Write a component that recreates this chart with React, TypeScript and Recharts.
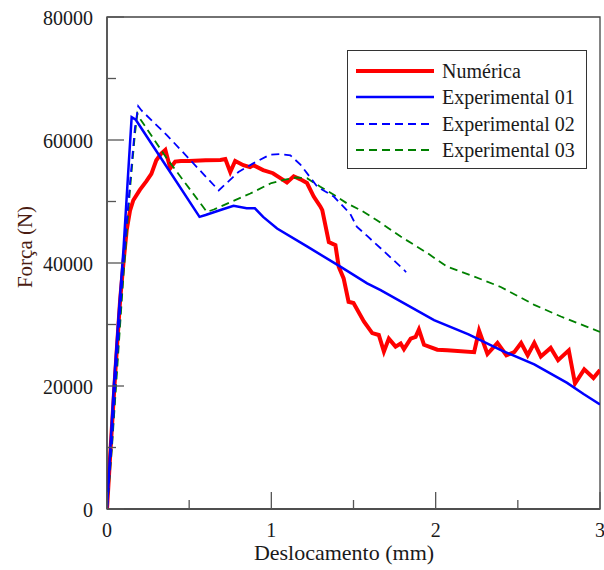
import { LineChart, Line, XAxis, YAxis, ReferenceArea } from "recharts";

const FONT = "'Liberation Serif', 'Times New Roman', serif";

// Numérica
const numDesl = [0, 0.02, 0.05, 0.08, 0.1, 0.12, 0.14, 0.16, 0.2, 0.24, 0.27, 0.3, 0.33, 0.355, 0.385, 0.415, 0.45, 0.5, 0.6, 0.69, 0.72, 0.75, 0.78, 0.83, 0.87, 0.89, 0.95, 1.01, 1.055, 1.095, 1.136, 1.177, 1.217, 1.258, 1.298, 1.31, 1.33, 1.35, 1.39, 1.41, 1.44, 1.47, 1.5, 1.563, 1.614, 1.654, 1.685, 1.715, 1.756, 1.787, 1.807, 1.848, 1.878, 1.898, 1.929, 2.01, 2.07, 2.234, 2.264, 2.315, 2.376, 2.43, 2.478, 2.52, 2.56, 2.6, 2.64, 2.7, 2.745, 2.81, 2.848, 2.904, 2.96, 3.0];
const numForca = [0, 9000, 22000, 34000, 40000, 45400, 48500, 50200, 51900, 53300, 54500, 56700, 57800, 58400, 55400, 56500, 56600, 56600, 56700, 56750, 56900, 54800, 56600, 55900, 55600, 55900, 55100, 54600, 53800, 53100, 54100, 53600, 53000, 50800, 49200, 48600, 46000, 43400, 42900, 39400, 37500, 33700, 33500, 30500, 28600, 28300, 25600, 27700, 26400, 26900, 26000, 27700, 28000, 29200, 26700, 25900, 25800, 25500, 29000, 25200, 27000, 25000, 25500, 27000, 25000, 27000, 24800, 26200, 24200, 25800, 20400, 22700, 21300, 22600];

// Experimental 01
const exp1Desl = [0, 0.02, 0.04, 0.07, 0.1, 0.125, 0.15, 0.175, 0.364, 0.563, 0.6, 0.7, 0.77, 0.85, 0.9, 0.95, 1.035, 1.217, 1.42, 1.583, 1.665, 1.99, 2.2, 2.4, 2.6, 2.8, 2.9, 3.0];
const exp1Forca = [0, 9600, 19400, 31300, 42100, 53000, 63700, 63300, 55600, 47500, 47800, 48700, 49300, 48900, 48900, 47500, 45600, 42700, 39400, 36700, 35600, 30700, 28400, 25800, 23500, 20500, 18700, 17000];

// Experimental 02
const exp2Desl = [0, 0.03, 0.06, 0.1, 0.14, 0.17, 0.19, 0.21, 0.364, 0.68, 0.72, 0.8, 0.89, 0.99, 1.05, 1.116, 1.177, 1.28, 1.38, 1.48, 1.52, 1.583, 1.665, 1.807, 1.82];
const exp2Forca = [0, 11000, 24000, 40000, 53000, 62000, 65500, 64800, 60800, 51800, 52800, 54800, 56200, 57600, 57700, 57500, 56000, 52400, 50800, 48000, 45900, 44400, 42400, 38900, 38500];

// Experimental 03
const exp3Desl = [0, 0.03, 0.06, 0.1, 0.14, 0.17, 0.185, 0.2, 0.364, 0.608, 0.65, 0.872, 1.0, 1.075, 1.15, 1.217, 1.298, 1.38, 1.46, 1.55, 1.64, 1.787, 1.95, 2.07, 2.234, 2.396, 2.6, 2.762, 3.0];
const exp3Forca = [0, 10000, 22000, 38000, 52000, 61000, 64300, 63500, 57000, 48300, 48700, 51300, 53000, 53500, 53900, 53800, 52400, 51100, 49700, 48500, 47000, 44300, 41600, 39400, 37800, 36100, 33200, 31300, 28800];

const xTicks = [0, 0.5, 1, 1.5, 2, 2.5, 3];
const yTicks = [0, 10000, 20000, 30000, 40000, 50000, 60000, 70000, 80000];

const zip = (xs: number[], ys: number[]) => xs.map((x, i) => ({ x, y: ys[i] }));

// drawing order (red underneath); legend order comes from `legendOrder`
const series = [
  { name: "Numérica", data: zip(numDesl, numForca), color: "#ff0000", width: 4, dash: undefined },
  { name: "Experimental 03", data: zip(exp3Desl, exp3Forca), color: "#008000", width: 1.8, dash: "8 5" },
  { name: "Experimental 02", data: zip(exp2Desl, exp2Forca), color: "#0000ff", width: 1.8, dash: "8 5" },
  { name: "Experimental 01", data: zip(exp1Desl, exp1Forca), color: "#0000ff", width: 2.5, dash: undefined },
];
const legendOrder = ["Numérica", "Experimental 01", "Experimental 02", "Experimental 03"];

const XTick = ({ x, y, payload }: any) => {
  const major = Number.isInteger(payload.value);
  return (
    <g>
      <line x1={x} x2={x} y1={y} y2={y - (major ? 17 : 9)} stroke="#555" strokeWidth={1.3} />
      {major && (
        <text x={x} y={y + 28} textAnchor="middle" fontSize={20} fontFamily={FONT} fill="#1a1a1a">
          {payload.value}
        </text>
      )}
    </g>
  );
};

const YTick = ({ x, y, payload }: any) => {
  const major = payload.value % 20000 === 0;
  return (
    <g>
      <line x1={x} x2={x + (major ? 17 : 9)} y1={y} y2={y} stroke="#555" strokeWidth={1.3} />
      {major && (
        <text x={x - 14} y={y + 8} textAnchor="end" fontSize={20} fontFamily={FONT} fill="#1a1a1a">
          {payload.value}
        </text>
      )}
    </g>
  );
};

const LegendBox = () => (
  <div
    style={{
      position: "absolute",
      left: 347,
      top: 50,
      border: "1px solid #333",
      background: "#fff",
      padding: "7px 0",
      fontFamily: FONT,
      fontSize: 20,
      color: "#1a1a1a",
      boxSizing: "border-box",
      width: 240,
      height: 119,
    }}
  >
    {legendOrder.map((name) => {
      const s = series.find((d) => d.name === name)!;
      return (
        <div key={name} style={{ display: "flex", alignItems: "center", height: 26.25 }}>
          <svg width={94} height={10} style={{ flex: "none" }}>
            <line x1={8} x2={86} y1={5} y2={5} stroke={s.color} strokeWidth={s.width} strokeDasharray={s.dash} />
          </svg>
          <span style={{ lineHeight: "20px" }}>{name}</span>
        </div>
      );
    })}
  </div>
);

export default function App() {
  return (
    <div style={{ position: "absolute", left: 0, top: 0, width: 604, height: 570, background: "#fff" }}>
      <LineChart width={604} height={570} margin={{ top: 17, right: 4, bottom: 0, left: 0 }}>
        <XAxis
          type="number"
          dataKey="x"
          domain={[0, 3]}
          ticks={xTicks}
          height={61}
          tickSize={0}
          tickMargin={0}
          tick={<XTick />}
          axisLine={{ stroke: "#444", strokeWidth: 1.3 }}
          allowDataOverflow
          label={{
            content: () => (
              <text x={344} y={560} textAnchor="middle" fontSize={22} fontFamily={FONT} fill="#1a1a1a">
                Deslocamento (mm)
              </text>
            ),
          }}
        />
        <YAxis
          type="number"
          dataKey="y"
          domain={[0, 80000]}
          ticks={yTicks}
          width={107}
          tickSize={0}
          tickMargin={0}
          tick={<YTick />}
          axisLine={{ stroke: "#444", strokeWidth: 1.3 }}
          allowDataOverflow
          label={{
            content: () => (
              <text
                x={27}
                y={247}
                transform="rotate(-90 27 247)"
                textAnchor="middle"
                dominantBaseline="middle"
                fontSize={21}
                fontFamily={FONT}
                fill="#4a1c12"
              >
                Força (N)
              </text>
            ),
          }}
        />
        <ReferenceArea x1={0} x2={3} y1={0} y2={80000} fill="none" stroke="#444" strokeWidth={1.3} />
        {series.map((s) => (
          <Line
            key={s.name}
            data={s.data}
            dataKey="y"
            name={s.name}
            type="linear"
            stroke={s.color}
            strokeWidth={s.width}
            strokeDasharray={s.dash}
            dot={false}
            isAnimationActive={false}
          />
        ))}
      </LineChart>
      <LegendBox />
    </div>
  );
}
